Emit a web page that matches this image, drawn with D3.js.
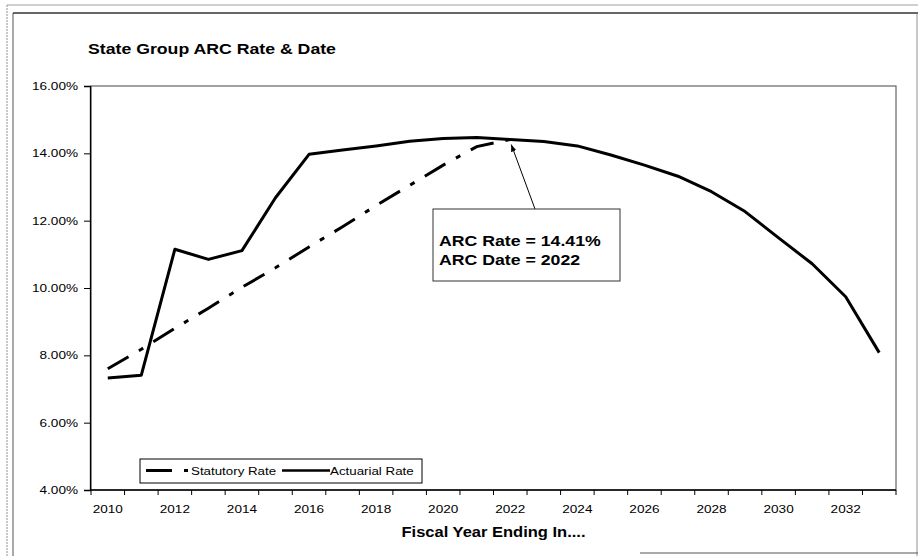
<!DOCTYPE html>
<html>
<head>
<meta charset="utf-8">
<script src="https://cdn.jsdelivr.net/npm/d3@7"></script>
<style>
  html, body { margin: 0; padding: 0; background: #fff; }
  svg { display: block; font-family: "Liberation Sans", Arial, sans-serif; }
</style>
</head>
<body>
<svg id="chart" width="918" height="556"></svg>
<script>
// ---------- data ----------
const years = [2010, 2011, 2012, 2013, 2014, 2015, 2016, 2017, 2018, 2019, 2020, 2021,
               2022, 2023, 2024, 2025, 2026, 2027, 2028, 2029, 2030, 2031, 2032, 2033];
const actuarialRate = [7.33, 7.41, 11.15, 10.85, 11.11, 12.68, 13.97, 14.10, 14.22, 14.36, 14.44, 14.47,
                       14.41, 14.35, 14.22, 13.95, 13.65, 13.32, 12.86, 12.27, 11.49, 10.72, 9.74, 8.08];
const statutoryYears = [2010, 2011, 2012, 2013, 2014, 2015, 2016, 2017, 2018, 2019, 2020, 2021, 2022];
const statutoryRate = [7.60, 8.18, 8.80, 9.40, 10.02, 10.60, 11.22, 11.82, 12.45, 13.05, 13.65, 14.20, 14.41];
const yTicks = [4, 6, 8, 10, 12, 14, 16];
const xTickLabels = [2010, 2012, 2014, 2016, 2018, 2020, 2022, 2024, 2026, 2028, 2030, 2032];
const titleText = "State Group ARC Rate & Date";
const xAxisTitle = "Fiscal Year Ending In....";
const seriesNames = ["Statutory Rate", "Actuarial Rate"];
const annotationLines = ["ARC Rate = 14.41%", "ARC Date = 2022"];
const arcYear = 2022, arcRate = 14.41;

// ---------- layout ----------
const svg = d3.select("#chart");
const SX = 1.18; // horizontal stretch of the scanned text
const plot = { left: 91, right: 896, top: 86, bottom: 490 };

const x = d3.scaleBand().domain(years).range([plot.left, plot.right]).padding(0);
const xc = d => x(d) + x.bandwidth() / 2;
const y = d3.scaleLinear().domain([4, 16]).range([plot.bottom, plot.top]);

function txt(parent, px, py, s, size, weight, anchor) {
  return parent.append("text")
    .attr("transform", `translate(${px},${py}) scale(${SX},1)`)
    .attr("text-anchor", anchor || "start")
    .attr("font-size", size)
    .attr("font-weight", weight || "normal")
    .attr("fill", "#000")
    .text(s);
}

// page frame (scanned document borders)
svg.append("line").attr("x1", 7).attr("y1", 5).attr("x2", 7).attr("y2", 556)
  .attr("stroke", "#777").attr("stroke-width", 0.8).attr("stroke-dasharray", "2,1");
svg.append("line").attr("x1", 7).attr("y1", 5).attr("x2", 918).attr("y2", 5)
  .attr("stroke", "#888").attr("stroke-width", 0.8);
svg.append("line").attr("x1", 13).attr("y1", 13).attr("x2", 13).attr("y2", 556)
  .attr("stroke", "#555").attr("stroke-width", 1);
svg.append("line").attr("x1", 13).attr("y1", 13).attr("x2", 918).attr("y2", 13)
  .attr("stroke", "#333").attr("stroke-width", 1.5);
svg.append("line").attr("x1", 917).attr("y1", 13).attr("x2", 917).attr("y2", 556)
  .attr("stroke", "#777").attr("stroke-width", 0.8);
svg.append("line").attr("x1", 640).attr("y1", 553).attr("x2", 918).attr("y2", 553)
  .attr("stroke", "#555").attr("stroke-width", 1);

// title
txt(svg, 88, 54, titleText, 15, "bold");

// plot area border
svg.append("rect")
  .attr("x", plot.left).attr("y", plot.top)
  .attr("width", plot.right - plot.left).attr("height", plot.bottom - plot.top)
  .attr("fill", "none").attr("stroke", "#444").attr("stroke-width", 1);

// y axis
const yAxis = d3.axisLeft(y).tickValues(yTicks).tickSize(6).tickFormat(d => d3.format(".2f")(d) + "%");
const gy = svg.append("g").attr("transform", `translate(${plot.left - 1},0)`).call(yAxis);
gy.select(".domain").attr("stroke", "#000").attr("stroke-width", 1.3);
gy.selectAll(".tick line").attr("stroke", "#000");
gy.selectAll(".tick text").remove();
yTicks.forEach(v => txt(svg, 78, y(v) + 4, d3.format(".2f")(v) + "%", 11.5, "normal", "end"));

// x axis: ticks at category boundaries
const boundaries = years.map(d => x(d)).concat([plot.right]);
const gx = svg.append("g");
gx.append("line").attr("x1", plot.left - 1).attr("x2", plot.right).attr("y1", plot.bottom).attr("y2", plot.bottom)
  .attr("stroke", "#000").attr("stroke-width", 1.3);
gx.selectAll("line.tk").data(boundaries).enter().append("line").attr("class", "tk")
  .attr("x1", d => d).attr("x2", d => d).attr("y1", plot.bottom).attr("y2", plot.bottom + 5)
  .attr("stroke", "#000").attr("stroke-width", 1);
xTickLabels.forEach(yr => txt(svg, xc(yr), 513, String(yr), 11.5, "normal", "middle"));

// x axis title
txt(svg, (plot.left + plot.right) / 2, 537, xAxisTitle, 14, "bold", "middle");

// lines
const line = d3.line().x(d => xc(d[0])).y(d => y(d[1]));
const dashPattern = "24,12,5,12";
svg.append("path")
  .datum(statutoryYears.map((d, i) => [d, statutoryRate[i]]))
  .attr("d", line).attr("fill", "none").attr("stroke", "#000")
  .attr("stroke-width", 3).attr("stroke-dasharray", dashPattern);
svg.append("path")
  .datum(years.map((d, i) => [d, actuarialRate[i]]))
  .attr("d", line).attr("fill", "none").attr("stroke", "#000")
  .attr("stroke-width", 3).attr("stroke-linejoin", "round");

// annotation
const defs = svg.append("defs");
defs.append("marker").attr("id", "arrow").attr("viewBox", "0 0 10 10")
  .attr("refX", 10).attr("refY", 5).attr("markerWidth", 7).attr("markerHeight", 7)
  .attr("orient", "auto")
  .append("path").attr("d", "M0,1 L10,5 L0,9 Z").attr("fill", "#000");
const box = { x: 433, y: 209, w: 187, h: 72 };
svg.append("line")
  .attr("x1", 535).attr("y1", box.y)
  .attr("x2", xc(arcYear) + 1).attr("y2", y(arcRate) + 5)
  .attr("stroke", "#000").attr("stroke-width", 1).attr("marker-end", "url(#arrow)");
svg.append("rect").attr("x", box.x).attr("y", box.y).attr("width", box.w).attr("height", box.h)
  .attr("fill", "#fff").attr("stroke", "#333").attr("stroke-width", 1);
txt(svg, 439, 246, annotationLines[0], 15, "bold");
txt(svg, 439, 265, annotationLines[1], 15, "bold");

// legend
const lg = svg.append("g");
lg.append("rect").attr("x", 140).attr("y", 459).attr("width", 282).attr("height", 24)
  .attr("fill", "#fff").attr("stroke", "#000").attr("stroke-width", 1);
lg.append("line").attr("x1", 146).attr("x2", 189).attr("y1", 470.5).attr("y2", 470.5)
  .attr("stroke", "#000").attr("stroke-width", 3).attr("stroke-dasharray", "26,12,4,12");
txt(lg, 191, 475, seriesNames[0], 11.3, "normal", "start");
lg.append("line").attr("x1", 282).attr("x2", 330).attr("y1", 470.5).attr("y2", 470.5)
  .attr("stroke", "#000").attr("stroke-width", 2.5);
txt(lg, 330, 475, seriesNames[1], 11.3, "normal", "start");
</script>
</body>
</html>
